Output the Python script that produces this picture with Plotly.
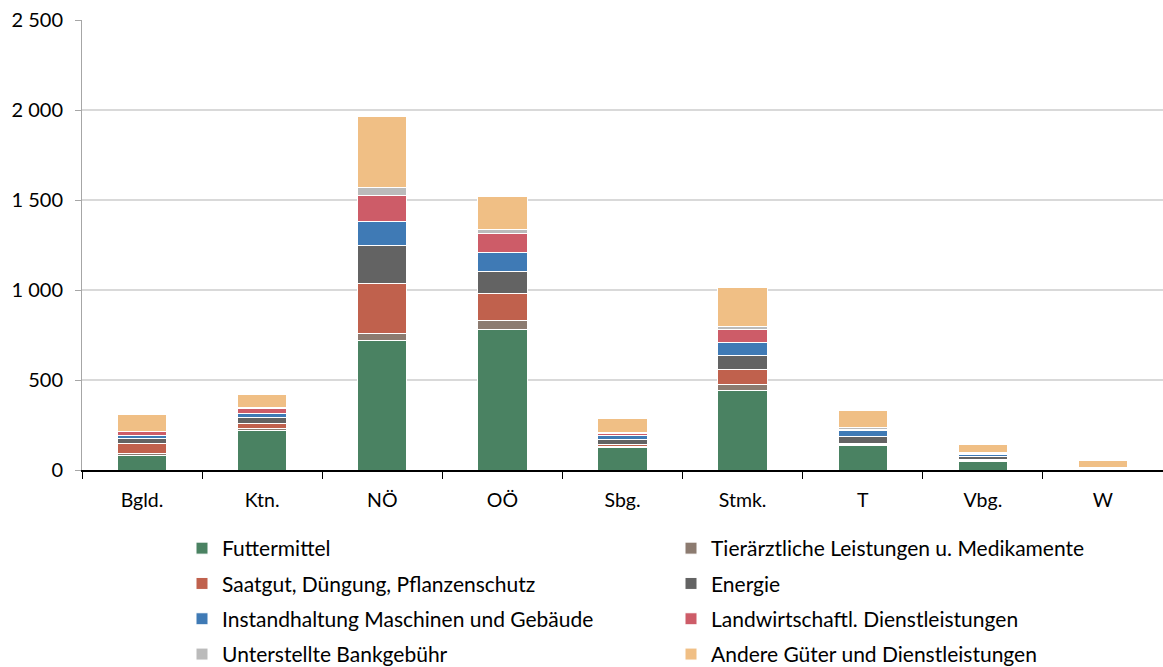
import plotly.graph_objects as go

# Bundesländer
laender = ["Bgld.", "Ktn.", "NÖ", "OÖ", "Sbg.", "Stmk.", "T", "Vbg.", "W"]

# Vorleistungen je Kategorie (Mio. Euro)
futtermittel = [81, 218, 722, 778, 124, 444, 135, 46, 2]
tierarzt = [8, 12, 35, 50, 7, 30, 7, 6, 1]
saatgut = [61, 27, 280, 150, 8, 83, 7, 8, 3]
energie = [26, 33, 209, 126, 30, 80, 35, 14, 3]
instandhaltung = [14, 24, 135, 103, 22, 69, 33, 10, 2]
landw_dienst = [22, 28, 143, 108, 10, 75, 9, 7, 2]
bankgebuehr = [4, 6, 46, 20, 9, 15, 11, 5, 2]
andere = [94, 74, 393, 182, 74, 219, 93, 44, 37]

serien = [
    ("Futtermittel", futtermittel, "#4a8262", "legend"),
    ("Tierärztliche Leistungen u. Medikamente", tierarzt, "#8c7b70", "legend2"),
    ("Saatgut, Düngung, Pflanzenschutz", saatgut, "#c0614d", "legend"),
    ("Energie", energie, "#636363", "legend2"),
    ("Instandhaltung Maschinen und Gebäude", instandhaltung, "#3f7ab5", "legend"),
    ("Landwirtschaftl. Dienstleistungen", landw_dienst, "#cd5c68", "legend2"),
    ("Unterstellte Bankgebühr", bankgebuehr, "#bbbbbb", "legend"),
    ("Andere Güter und Dienstleistungen", andere, "#f0bf85", "legend2"),
]

FONT = "Lato"

fig = go.Figure()
for name, werte, farbe, leg in serien:
    fig.add_trace(go.Bar(
        x=laender, y=werte, name=name,
        marker=dict(color=farbe, line=dict(color="white", width=1)),
        legend=leg, legendgroup=name,
    ))

legend_style = dict(
    orientation="v", xref="container", yref="container",
    xanchor="left", yanchor="top",
    font=dict(family=FONT, size=21, color="#000000"),
    tracegroupgap=5, itemclick=False, itemdoubleclick=False,
    bgcolor="rgba(0,0,0,0)",
)

fig.update_layout(
    width=1163, height=667,
    margin=dict(l=82, r=0, t=20, b=197, autoexpand=False),
    barmode="stack", bargap=0.59,
    plot_bgcolor="white", paper_bgcolor="white",
    separators=", ",
    font=dict(family=FONT, size=20, color="#000000"),
    legend=dict(x=182 / 1163, y=1 - 528 / 667, **legend_style),
    legend2=dict(x=671 / 1163, y=1 - 528 / 667, **legend_style),
    xaxis=dict(
        showline=True, linecolor="#000000", linewidth=2,
        ticks="outside", tickson="boundaries", ticklen=7, tickcolor="#000000", tickwidth=1,
        ticklabelstandoff=12, tickangle=0,
        tickfont=dict(family=FONT, size=19.5),
    ),
    yaxis=dict(
        range=[0, 2500], dtick=500, tickformat=",d",
        showline=True, linecolor="#a6a6a6", linewidth=1,
        ticks="outside", ticklen=6, tickcolor="#a6a6a6",
        showgrid=True, gridcolor="#d9d9d9", gridwidth=1.5,
        zeroline=False,
        ticklabelstandoff=8,
        tickfont=dict(family=FONT, size=20),
    ),
)

fig.write_html("out.html")
